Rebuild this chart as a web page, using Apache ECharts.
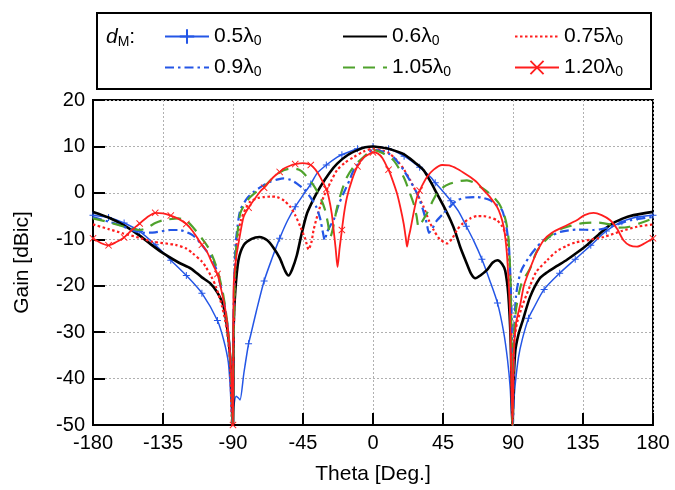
<!DOCTYPE html>
<html><head><meta charset="utf-8">
<script src="https://cdn.jsdelivr.net/npm/echarts@6/dist/echarts.min.js"></script>
<style>html,body{margin:0;padding:0;background:#fff}#c{width:675px;height:490px}</style>
</head><body><div id="c"></div>
<script>
// ---- axis ranges / ticks ----
const xTicks = [-180, -135, -90, -45, 0, 45, 90, 135, 180];
const yTicks = [-50, -40, -30, -20, -10, 0, 10, 20];
const seriesNames = ['0.5λ0', '0.6λ0', '0.75λ0', '0.9λ0', '1.05λ0', '1.20λ0'];

// ---- data: [theta (deg), gain (dBic)] ----
const d05 = [[-180,-4.8],[-170,-5.3],[-160,-6.5],[-150,-8.3],[-140,-11.2],[-130,-14.5],[-120,-17.8],[-110,-21.6],[-100,-27.5],[-96,-31.7],[-93,-36.5],[-91.7,-42.4],[-90.5,-50],[-89.5,-46],[-88,-43.8],[-86.5,-44.2],[-85.5,-44.6],[-83,-38.8],[-80,-32.5],[-78.9,-31],[-75,-25.5],[-70,-19],[-65,-14.2],[-60,-9.8],[-55,-6],[-50,-3],[-45,-0.5],[-40,1.9],[-36,4.2],[-30,6],[-23,7.7],[-20,8.2],[-10,9.5],[0,10],[10,9.5],[20,7.9],[30,5.5],[37,3.4],[40,2.2],[45,0.3],[50,-1.7],[55,-4],[60,-7.2],[65,-10.5],[70,-14.3],[75,-18.8],[80,-23.7],[84,-30],[86.5,-36],[88.2,-42],[89.5,-50],[90.5,-45],[91.5,-41],[93.5,-35.5],[96,-31.5],[100,-27],[103,-25],[110,-20.8],[120,-17.3],[130,-14.3],[140,-11.3],[150,-8.2],[160,-6.2],[170,-5.2],[180,-4.8]];
const d06 = [[-180,-4.1],[-170,-5.3],[-160,-7],[-150,-9.2],[-140,-11.8],[-135,-13],[-125,-15],[-117,-16.3],[-110,-18.2],[-104.6,-19.5],[-100,-21.5],[-96,-24.5],[-92.8,-31.7],[-91,-40],[-90,-50],[-89.5,-28],[-88.5,-21],[-86.5,-14.5],[-83,-11.2],[-78,-9.9],[-73,-9.5],[-68,-10.2],[-64,-11.8],[-60,-14],[-56.5,-16.8],[-54.3,-17.8],[-52,-16.5],[-49,-13.5],[-46,-9],[-42.4,-4.4],[-38,-1.2],[-33.9,1.3],[-28,4.3],[-23,6.3],[-16,8.2],[-10,9.2],[-5,9.8],[0,10],[5,9.8],[10,9.5],[20,8.3],[27,6.5],[32.5,4.9],[37,2.4],[41,-0.1],[45,-2.6],[50,-6],[53,-8.5],[56,-11.6],[60,-15],[63,-17.4],[65.8,-18.4],[69,-17.8],[73.3,-16.6],[77,-15],[80,-14.5],[83,-15.3],[85,-16.8],[87,-22],[88.5,-32],[89.7,-50],[90.5,-40],[91.5,-34],[93.5,-30.5],[96,-27.8],[101,-22.4],[107,-18.5],[112,-17.1],[118,-15.8],[124.7,-14.4],[131,-12.9],[138,-11.1],[145,-9],[152.5,-6.9],[160,-5.6],[167.5,-4.8],[180,-4.1]];
const d075 = [[-180,-6.8],[-170,-7.8],[-161,-8.7],[-150,-9.7],[-142,-10.5],[-127,-11.2],[-120,-12],[-116,-13],[-110,-14.8],[-107.6,-15.9],[-104,-18],[-101,-20.2],[-97,-24.5],[-94,-29.5],[-92,-36],[-90.6,-50],[-89.5,-30],[-88.5,-16],[-87.4,-10],[-85,-6],[-82,-3.5],[-78.9,-1.9],[-74,-1.1],[-70,-0.9],[-66,-0.8],[-61.7,-0.9],[-57,-1.7],[-53.2,-3],[-50,-4.8],[-46.7,-7.3],[-43.5,-10],[-41.4,-12.2],[-39.5,-10.5],[-38.2,-8],[-35,-4],[-31.8,-0.9],[-27,2.5],[-23.1,4.9],[-18,6.5],[-12.4,7.7],[-6,8.9],[0,9.5],[6,9.1],[10,8.6],[15.4,7],[20,5],[24,2.7],[28,0],[32.5,-3],[36,-6],[39,-8],[43,-10],[47.6,-10.9],[51,-9.8],[54,-8],[58,-6.5],[62.5,-5.5],[67,-5],[71,-5],[75,-5.3],[79.7,-5.9],[83,-7.2],[85,-8.7],[87,-12],[88.5,-20],[89.7,-50],[90.8,-32],[92.6,-28],[95.8,-24.5],[101,-20],[105,-17],[112,-14.5],[118,-12.6],[124.7,-11.4],[130,-10.7],[139.7,-10.1],[148.3,-9.5],[160,-8.2],[169.7,-7.3],[180,-6.8]];
const d09 = [[-180,-5.2],[-170,-6.2],[-163,-6.9],[-155,-8],[-148,-8.6],[-140,-8.5],[-130,-8],[-125,-8],[-116,-9.1],[-110,-11.2],[-107.6,-12.3],[-103,-14.5],[-100,-17.3],[-96,-23],[-93,-30],[-91,-40],[-90.2,-50],[-89.6,-25],[-88.5,-12],[-87,-7],[-85.3,-3.7],[-81,-1.2],[-76.7,0.2],[-71,1.5],[-66,2.4],[-61,2.9],[-57.5,3.1],[-53,2.8],[-48.9,2],[-44,0.7],[-40.3,-0.9],[-36.5,-3],[-34,-5.5],[-32.5,-8],[-31,-10.2],[-29.6,-8.5],[-27,-6.8],[-25.3,-5.9],[-22,-2.5],[-18.9,-0.1],[-15,2.8],[-12.4,4.9],[-7,7.3],[-3,8.6],[0,9.3],[5,9],[11,8.3],[15,7],[19.7,4.9],[24,2.5],[28.3,-0.1],[32,-3.5],[34.5,-6.5],[36,-8.6],[38,-7.8],[41,-6],[45.4,-4.4],[50,-2.8],[54,-1.6],[60,-1],[66.9,-0.9],[71,-1.1],[75.4,-1.6],[79,-2.5],[82.9,-3.7],[85,-6],[86.1,-8],[87.5,-12],[89,-25],[90,-50],[90.8,-30],[92,-22],[95,-17],[100,-14],[105,-11.8],[109.7,-10.2],[115,-9.2],[120.4,-8.4],[131,-7.9],[141.8,-8],[147,-7.8],[152.5,-7.3],[165.4,-5.9],[180,-5.2]];
const d105 = [[-180,-5.5],[-170,-6.3],[-160,-7.3],[-150,-8],[-145,-7.5],[-140,-6.5],[-135,-5.9],[-125,-5.5],[-120,-6],[-116,-7.3],[-110,-9.8],[-105,-12.3],[-100,-16.6],[-96,-22.5],[-93,-30],[-91,-40],[-90.2,-50],[-89.6,-30],[-88.5,-15],[-87.4,-9.5],[-85.3,-4.4],[-82,-2.2],[-78.9,-0.9],[-74,0.5],[-70,1.3],[-65,3],[-59.6,4.5],[-55,5.1],[-50,5.2],[-46,4.7],[-42.4,3.4],[-38,1.5],[-34,-0.9],[-31,-3.5],[-29,-6.5],[-27.4,-9.5],[-26,-8],[-23,-3],[-20,0.5],[-16.7,3.4],[-12,5.8],[-6,7.7],[0,9.2],[6,8.6],[13.2,7],[19.7,3.4],[23,0.6],[26.1,-2.3],[28,-5],[29.3,-7.3],[31,-6.5],[34.7,-4.4],[38,-2],[41.1,-0.1],[45,1.2],[49.7,2],[55,2.5],[60.4,2.7],[65,2.2],[69,1.3],[73,0.4],[77.5,-0.9],[81,-2.3],[84,-4.4],[86,-7],[87.2,-10.2],[88.5,-20],[89.7,-50],[90.5,-32],[92,-25],[95,-20],[98,-18],[101,-16.3],[105,-12.8],[110,-10.5],[118,-8.2],[125,-7.3],[135,-6.5],[144,-6.4],[152,-6.8],[158,-7.5],[165,-7.3],[172,-6.5],[180,-5.5]];
const d120 = [[-180,-9.8],[-175,-10.8],[-170,-11.3],[-165,-10.6],[-160,-9.6],[-155,-8],[-150,-6.6],[-145,-5.2],[-140,-4.3],[-135,-4.4],[-130,-4.9],[-125,-5.6],[-120,-6.7],[-116,-8.2],[-112,-10.2],[-110,-11.2],[-107,-12.5],[-103.3,-15.2],[-100,-17.5],[-98,-20.2],[-95,-25],[-92.5,-32],[-91,-40],[-90,-50],[-89.6,-20.2],[-88,-14],[-86,-10],[-83.2,-5.2],[-80,-3.2],[-76.7,-1.6],[-72,0.5],[-70,1.1],[-66,2.7],[-62,4],[-60,4.5],[-57.5,5.2],[-53,5.9],[-50,6.2],[-45,6.4],[-40,6],[-37,5],[-33.9,3.4],[-30,0.8],[-28.5,-0.9],[-26.5,-4.5],[-25.3,-8],[-24,-12],[-22.8,-16],[-21.5,-12],[-20,-8],[-18.5,-4.2],[-16.7,-0.9],[-13.5,2.8],[-10,5.7],[-6,7.6],[-1.7,8.5],[0,8.7],[3,8.5],[6,7.5],[9,5.6],[10,5],[12.5,2.8],[15.4,-0.1],[17.5,-3],[19.7,-6.6],[21,-9.5],[21.9,-11.6],[23,-9.5],[24,-8],[26,-4.5],[28.3,-0.9],[30,0.5],[34.7,3.4],[39,5],[44.4,6],[49,5.9],[54,5.2],[58,4.4],[62.5,3.4],[67,2.2],[71.1,0.6],[75,-0.8],[79.7,-3],[82,-4.8],[84,-7.3],[85.5,-11],[86.5,-15.2],[88,-25],[89.7,-50],[90.5,-35],[92,-28],[94.7,-24],[97,-20],[101,-16.3],[105,-13],[109.7,-10.2],[115,-8.6],[122.5,-7.3],[131,-5.9],[136,-4.8],[141.8,-4.3],[147,-4.8],[152.5,-5.9],[157,-7.8],[161,-10.2],[165,-11.3],[169.7,-11.6],[175,-10.8],[180,-9.8]];

// ---- styling ----
const FONT = 'Liberation Sans';
const BLUE = '#2456e6', RED = '#ff1e1e', GREEN = '#4fa22c';
const PLUS = 'path://M4.3,0H5.7V4.3H10V5.7H5.7V10H4.3V5.7H0V4.3H4.3Z';
const CROSS = 'path://M0.9,0L5,4.1L9.1,0L10,0.9L5.9,5L10,9.1L9.1,10L5,5.9L0.9,10L0,9.1L4.1,5L0,0.9Z';
const markerSize = (v) => (Math.abs(v[0] % 10) < 1e-9 ? 7 : 0);

const specs = [
  { data: d05,  color: BLUE,  width: 1.5, type: 'solid', symbol: PLUS },
  { data: d06,  color: '#000', width: 2.6, type: 'solid', symbol: 'none' },
  { data: d075, color: RED,   width: 2.2, type: [2.5, 2.5], symbol: 'none' },
  { data: d09,  color: BLUE,  width: 2.2, type: [9, 4, 2.5, 4], symbol: 'none' },
  { data: d105, color: GREEN, width: 2.2, type: [12, 8], symbol: 'none' },
  { data: d120, color: RED,   width: 1.8, type: 'solid', symbol: CROSS }
];

const series = specs.map((s, i) => ({
  name: seriesNames[i],
  type: 'line',
  data: s.data,
  smooth: 0.25,
  symbol: s.symbol,
  symbolSize: s.symbol === 'none' ? 0 : markerSize,
  showAllSymbol: true,
  clip: true,
  lineStyle: { color: s.color, width: s.width, type: s.type },
  itemStyle: { color: s.color, borderWidth: 0 },
  emphasis: { disabled: true },
  z: 2 + i
}));

// legend positions (one legend component per entry, 3 columns x 2 rows)
const legendCols = [164, 342, 514];
const legendRows = [26, 57];
const legends = seriesNames.map((n, i) => ({
  data: [{ name: n, itemStyle: specs[i].symbol === 'none' ? { opacity: 0 } : {} }],
  left: legendCols[i % 3],
  top: legendRows[Math.floor(i / 3)],
  padding: 0,
  itemWidth: 44,
  itemHeight: 18,
  selectedMode: false,
  formatter: (name) => name.replace(/λ0$/, 'λ{sub|0}'),
  textStyle: {
    fontFamily: FONT, fontSize: 21, color: '#000',
    rich: { sub: { fontFamily: FONT, fontSize: 14, color: '#000', padding: [10, 0, 0, 0] } }
  }
}));

const option = {
  animation: false,
  backgroundColor: '#fff',
  grid: { left: 93, right: 22, top: 100, bottom: 65, show: true, borderColor: '#000', borderWidth: 2, backgroundColor: 'transparent' },
  legend: legends,
  graphic: [
    { type: 'rect', shape: { x: 97, y: 13, width: 554, height: 76 }, style: { fill: 'none', stroke: '#000', lineWidth: 2 }, z: 100 },
    { type: 'text', x: 106, y: 25, z: 100,
      style: { text: '{d|d}{m|M}:', fontFamily: FONT, fontSize: 21, fill: '#000',
        rich: { d: { fontFamily: FONT, fontSize: 21, fontStyle: 'italic', fill: '#000' },
                m: { fontFamily: FONT, fontSize: 14, fill: '#000', padding: [10, 0, 0, 0] } } } }
  ],
  xAxis: {
    type: 'value', min: xTicks[0], max: xTicks[xTicks.length - 1], interval: 45,
    name: 'Theta [Deg.]', nameLocation: 'middle', nameGap: 39,
    nameTextStyle: { fontFamily: FONT, fontSize: 21, color: '#000' },
    axisLine: { show: true, onZero: false, lineStyle: { color: '#000', width: 2 } },
    axisTick: { show: true, inside: true, length: 12, lineStyle: { color: '#000', width: 2 } },
    axisLabel: { fontFamily: FONT, fontSize: 20, color: '#000', margin: 8,
      formatter: (v) => (xTicks.includes(v) ? String(v) : '') },
    splitLine: { show: true, lineStyle: { color: '#b0b0b0', width: 1, type: [2, 2] } }
  },
  yAxis: {
    type: 'value', min: yTicks[0], max: yTicks[yTicks.length - 1], interval: 10,
    name: 'Gain [dBic]', nameLocation: 'middle', nameGap: 60, nameRotate: 90,
    nameTextStyle: { fontFamily: FONT, fontSize: 21, color: '#000' },
    axisLine: { show: true, onZero: false, lineStyle: { color: '#000', width: 2 } },
    axisTick: { show: true, inside: true, length: 12, lineStyle: { color: '#000', width: 2 } },
    axisLabel: { fontFamily: FONT, fontSize: 20, color: '#000', margin: 8,
      formatter: (v) => (yTicks.includes(v) ? String(v) : '') },
    splitLine: { show: true, lineStyle: { color: '#b0b0b0', width: 1, type: [2, 2] } }
  },
  series: series
};

const chart = echarts.init(document.getElementById('c'), null, { renderer: 'canvas' });
chart.setOption(option);
</script>
</body></html>
